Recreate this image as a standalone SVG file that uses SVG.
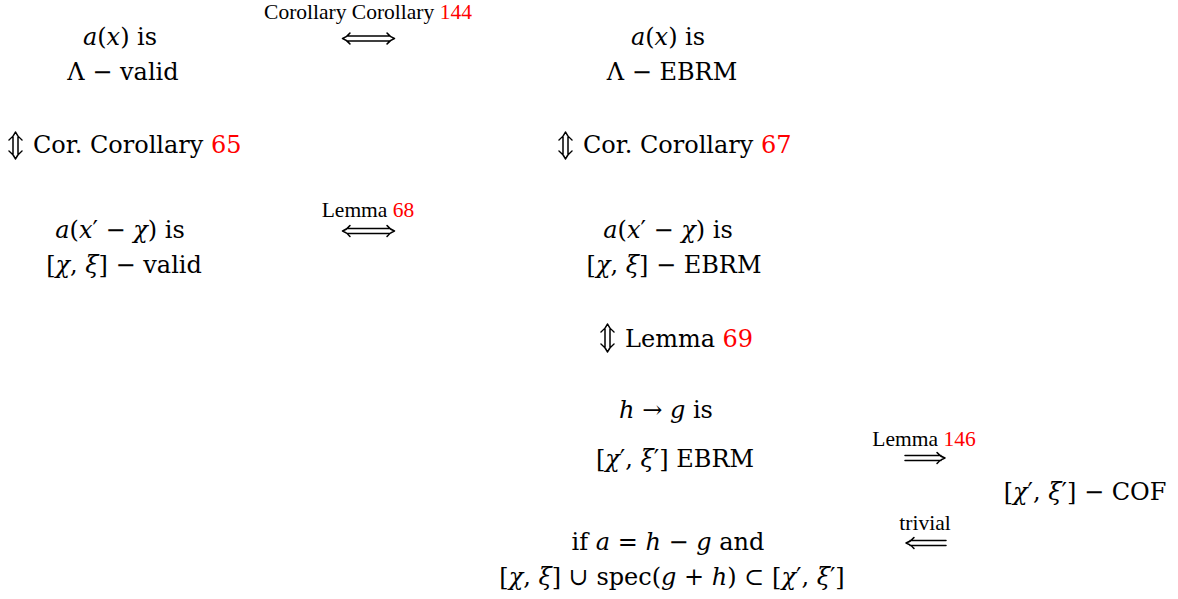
<svg xmlns="http://www.w3.org/2000/svg" width="1178" height="599" viewBox="0 0 1178 599">
<style>
text{font-family:"Liberation Serif","Times New Roman",serif;fill:#000}
.m{font-family:"DejaVu Serif","Liberation Serif",serif;font-size:24px}
.l{font-family:"Liberation Serif",serif;font-size:21.5px}
.i{font-style:italic}
.r{fill:#ff0000}
.ar{fill:none;stroke:#000;stroke-width:1.5;stroke-linecap:round;stroke-linejoin:round}
</style>
<rect width="1178" height="599" fill="#fff"/>
<g id="n1">
<text class="m" x="120" y="45" text-anchor="middle"><tspan class="i">a</tspan>(<tspan class="i">x</tspan>) is</text>
<text class="m" x="123" y="80" text-anchor="middle">Λ − valid</text>
</g>
<g id="n2">
<text class="m" x="668" y="45" text-anchor="middle"><tspan class="i">a</tspan>(<tspan class="i">x</tspan>) is</text>
<text class="m" x="672" y="80" text-anchor="middle">Λ − EBRM</text>
</g>
<g id="n3">
<text class="m" x="120" y="238" text-anchor="middle"><tspan class="i">a</tspan>(<tspan class="i">x</tspan>′ − <tspan class="i">χ</tspan>) is</text>
<text class="m" x="124" y="273" text-anchor="middle">[<tspan class="i">χ</tspan>, <tspan class="i">ξ</tspan>] − valid</text>
</g>
<g id="n4">
<text class="m" x="668" y="238" text-anchor="middle"><tspan class="i">a</tspan>(<tspan class="i">x</tspan>′ − <tspan class="i">χ</tspan>) is</text>
<text class="m" x="674" y="273" text-anchor="middle">[<tspan class="i">χ</tspan>, <tspan class="i">ξ</tspan>] − EBRM</text>
</g>
<g id="n5">
<text class="m" x="666" y="418" text-anchor="middle"><tspan class="i">h</tspan> → <tspan class="i">g</tspan> is</text>
<text class="m" x="675" y="467" text-anchor="middle">[<tspan class="i">χ</tspan>′, <tspan class="i">ξ</tspan>′] EBRM</text>
</g>
<g id="n6">
<text class="m" x="1085" y="500" text-anchor="middle">[<tspan class="i">χ</tspan>′, <tspan class="i">ξ</tspan>′] − COF</text>
</g>
<g id="n7">
<text class="m" x="668" y="550" text-anchor="middle">if <tspan class="i">a</tspan> = <tspan class="i">h</tspan> − <tspan class="i">g</tspan> and</text>
<text class="m" x="672" y="585" text-anchor="middle">[<tspan class="i">χ</tspan>, <tspan class="i">ξ</tspan>] ∪ spec(<tspan class="i">g</tspan> + <tspan class="i">h</tspan>) ⊂ [<tspan class="i">χ</tspan>′, <tspan class="i">ξ</tspan>′]</text>
</g>
<g id="connectors">
<text class="l" x="368" y="19" text-anchor="middle">Corollary Corollary <tspan class="r">144</tspan></text>
<path class="ar" d="M347 36H390M347 41H390M350 33Q347 37 342.5 38.5Q347 40 350 44M387 33Q390 37 394.5 38.5Q390 40 387 44"/>
<text class="l" x="368" y="217" text-anchor="middle">Lemma <tspan class="r">68</tspan></text>
<path class="ar" d="M347 228.5H390M347 233.5H390M350 225.5Q347 229.5 342.5 231Q347 232.5 350 236.5M387 225.5Q390 229.5 394.5 231Q390 232.5 387 236.5"/>
<path class="ar" d="M13 137V154M18 137V154M9 140Q14 136 15.5 132Q17 136 22 140M9 151Q14 155 15.5 159Q17 155 22 151"/>
<text class="m" x="33" y="153">Cor. Corollary <tspan class="r">65</tspan></text>
<path class="ar" d="M563 137V154M568 137V154M559 140Q564 136 565.5 132Q567 136 572 140M559 151Q564 155 565.5 159Q567 155 572 151"/>
<text class="m" x="583" y="153">Cor. Corollary <tspan class="r">67</tspan></text>
<path class="ar" d="M605 329V347M610 329V347M601 332Q606 328 607.5 324Q609 328 614 332M601 344Q606 348 607.5 352Q609 348 614 344"/>
<text class="m" x="625" y="347">Lemma <tspan class="r">69</tspan></text>
<text class="l" x="924" y="446" text-anchor="middle">Lemma <tspan class="r">146</tspan></text>
<path class="ar" d="M905 455.5H941M905 460.5H941M937 452.5Q940 456.5 945 458Q940 459.5 937 463.5"/>
<text class="l" x="925" y="530" text-anchor="middle">trivial</text>
<path class="ar" d="M910 540.5H946M910 545.5H946M914 537.5Q911 541.5 906 543Q911 544.5 914 548.5"/>
</g>
</svg>
